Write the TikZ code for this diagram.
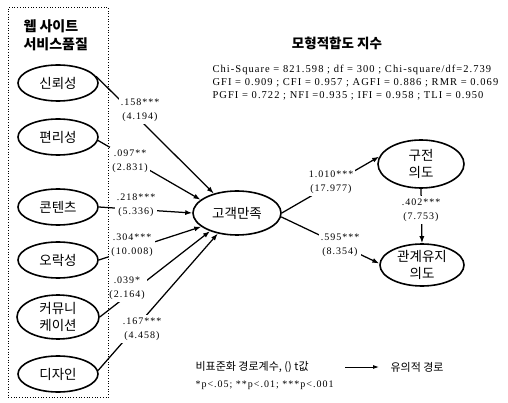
\documentclass[tikz,border=0pt]{standalone}
\usepackage{fontspec}
\setmainfont{Liberation Serif}
\newfontfamily\kr{Noto Sans CJK KR}
\newfontfamily\lat{Liberation Serif}[LetterSpace=10]
\usetikzlibrary{shapes.geometric,arrows.meta}
\begin{document}
\begin{tikzpicture}[x=1pt,y=-1pt,
  ell/.style={draw,ellipse,line width=1.6pt,inner sep=0pt,align=center,
    font=\kr\fontsize{13.5}{17}\selectfont},
  conn/.style={line width=1.25pt,-{Latex[length=7pt,width=5pt]}},
  lbl/.style={fill=white,inner xsep=2pt,inner ysep=2.5pt,align=center,
    font=\lat\fontsize{10}{14}\selectfont},
  krtxt/.style={font=\kr\fontsize{11}{13}\selectfont}
]
\useasboundingbox[fill=white] (0,0) rectangle (508,403);
\node[anchor=north west,align=left,font=\kr\bfseries\fontsize{14}{18}\selectfont]
  (ttl) at (20,16) {웹 사이트\\서비스품질};
% exogenous factors
\node[ell,minimum width=80pt,minimum height=36pt] (s1) at (58,83) {신뢰성};
\node[ell,minimum width=80pt,minimum height=36pt] (s2) at (58,137) {편리성};
\node[ell,minimum width=80pt,minimum height=36pt] (s3) at (58,207) {콘텐츠};
\node[ell,minimum width=80pt,minimum height=36pt] (s4) at (58,260) {오락성};
\node[ell,minimum width=82pt,minimum height=44pt] (s5) at (58,317) {커뮤니\\케이션};
\node[ell,minimum width=80pt,minimum height=36pt] (s6) at (58,374) {디자인};
% endogenous
\node[ell,minimum width=88pt,minimum height=44pt] (g) at (237,213) {고객만족};
\node[ell,minimum width=86pt,minimum height=48pt] (k) at (421,164) {구전\\의도};
\node[ell,minimum width=84pt,minimum height=42pt] (r) at (422,265) {관계유지\\의도};
% connectors
\draw[conn] (s1.10) -- (g.140);
\draw[conn] (s2.-5) -- (g.160);
\draw[conn] (s3.east) -- (g.west);
\draw[conn] (s4.east) -- (g.201);
\draw[conn] (s5.east) -- (g.214);
\draw[conn] (s6.5) -- (g.227);
\draw[conn] (g.east) -- (k.170);
\draw[conn] (g.-5) -- (r.178);
\draw[conn] (k.south) -- (r.north);
% path labels
\node[lbl] (l1) at (140,110) {.158***\\(4.194)};
\node[lbl] (l2) at (130,161) {.097**\\(2.831)};
\node[lbl] (l3) at (136,205) {.218***\\(5.336)};
\node[lbl] (l4) at (132,245) {.304***\\(10.008)};
\node[lbl] (l5) at (127,288) {.039*\\(2.164)};
\node[lbl] (l6) at (142,329) {.167***\\(4.458)};
\node[lbl] (l7) at (331,182) {1.010***\\(17.977)};
\node[lbl] (l8) at (340,245) {.595***\\(8.354)};
\node[lbl] (l9) at (421,210) {.402***\\(7.753)};
% left group box (drawn last so that labels do not hide it)
\node[draw,dotted,line width=0.7pt,minimum width=100pt,minimum height=390pt,
  anchor=north west,inner sep=0pt] (box) at (8,7) {};
% fit indices
\node[font=\kr\bfseries\fontsize{13.5}{16}\selectfont] (ft) at (337,43) {모형적합도 지수};
\node[anchor=west,align=left,font=\lat\fontsize{10.5}{13}\selectfont] (stats) at (209,83)
  {Chi-Square = 821.598 ; df = 300 ; Chi-square/df=2.739\\
   GFI = 0.909 ; CFI = 0.957 ; AGFI = 0.886 ; RMR = 0.069\\
   PGFI = 0.722 ; NFI =0.935 ; IFI = 0.958 ; TLI = 0.950};
% legend
\node[anchor=west,krtxt] (leg1) at (192,367) {비표준화 경로계수, () t값};
\coordinate (la) at (345,367);
\coordinate (lb) at (379,367);
\draw[line width=0.9pt,-{Latex[length=6pt,width=4pt]}] (la) -- (lb);
\node[anchor=west,krtxt] (leg2) at (387,367) {유의적 경로};
\node[anchor=west,font=\lat\fontsize{10}{12}\selectfont] (leg3) at (192,385)
  {*p<.05; **p<.01; ***p<.001};
\end{tikzpicture}
\end{document}
